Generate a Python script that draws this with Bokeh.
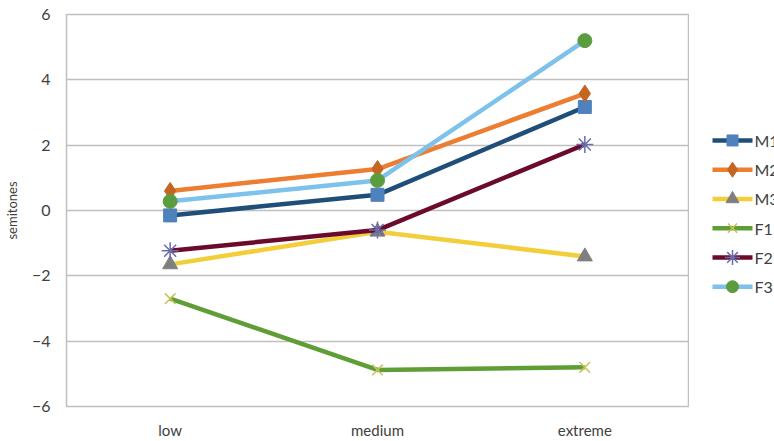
from bokeh.plotting import figure
from bokeh.layouts import row
from bokeh.models import FixedTicker
from bokeh.core.properties import value
from bokeh.embed import file_html
from bokeh.resources import INLINE

categories = ["low", "medium", "extreme"]

series_names = ["M1", "M2", "M3", "F1", "F2", "F3"]
m1 = [-0.15, 0.48, 3.17]
m2 = [0.60, 1.27, 3.58]
m3 = [-1.65, -0.65, -1.41]
f1 = [-2.70, -4.88, -4.80]
f2 = [-1.23, -0.60, 2.02]
f3 = [0.28, 0.92, 5.20]
y_ticks = [-6, -4, -2, 0, 2, 4, 6]

FONT = "Lato"

# line colour, marker, marker colour, marker size
styles = {
    "M1": ("#1F4E79", "square", "#4F81BD", 13),
    "M2": ("#ED7D31", "diamond", "#C5651F", 17),
    "M3": ("#F2CE3A", "triangle", "#7F7F7F", 15),
    "F1": ("#5F9E35", "x", "#C9C35A", 15),
    "F2": ("#6B0A2C", "asterisk", "#6A6DAA", 17),
    "F3": ("#7CC2EA", "circle", "#5B9C3E", 14),
}
values = {"M1": m1, "M2": m2, "M3": m3, "F1": f1, "F2": f2, "F3": f3}


def marker_style(mk, mc):
    if mk in ("x", "asterisk"):
        return dict(line_color=mc, line_width=1.5)
    return dict(fill_color=mc, line_color=mc)


# main chart
p = figure(
    width=689, height=441,
    x_range=categories, y_range=(-6, 6),
    output_backend="svg", toolbar_location=None,
    min_border_left=60, min_border_right=1,
    min_border_top=14, min_border_bottom=35,
)
p.x_range.range_padding = 0

p.outline_line_color = "#BFBFBF"
p.outline_line_width = 1.5
p.xgrid.grid_line_color = None
p.ygrid.grid_line_color = "#BFBFBF"
p.ygrid.grid_line_width = 1.5

p.yaxis.ticker = FixedTicker(ticks=y_ticks)
p.yaxis.axis_label = "semitones"
p.yaxis.axis_label_text_font = FONT
p.yaxis.axis_label_text_font_style = "normal"
p.yaxis.axis_label_text_font_size = "13px"
p.yaxis.axis_label_text_color = "#404040"
p.yaxis.axis_label_standoff = 9

for ax in (p.xaxis, p.yaxis):
    ax.axis_line_color = None
    ax.major_tick_line_color = None
    ax.minor_tick_line_color = None
    ax.major_tick_out = 0
    ax.major_tick_in = 0
    ax.minor_tick_out = 0
    ax.minor_tick_in = 0
    ax.major_label_text_font = FONT
    ax.major_label_text_color = "#404040"
p.xaxis.major_label_text_font_size = "15px"
p.yaxis.major_label_text_font_size = "16px"
p.yaxis.major_label_standoff = 16
p.xaxis.major_label_standoff = 14

for name in series_names:
    lc, mk, mc, ms = styles[name]
    ys = values[name]
    p.line(categories, ys, line_color=lc, line_width=4.5)
    p.scatter(categories, ys, marker=mk, size=ms, **marker_style(mk, mc))

# legend panel on the right, in pixel units
leg = figure(
    width=85, height=441,
    x_range=(0, 85), y_range=(441, 0),
    output_backend="svg", toolbar_location=None,
    x_axis_location=None, y_axis_location=None,
    min_border=0, outline_line_color=None,
)
leg.grid.visible = False

row_top, row_step = 141.7, 32.9
for i, name in enumerate(series_names):
    lc, mk, mc, ms = styles[name]
    yy = row_top + row_step * i
    leg.line([23, 63], [yy, yy], line_color=lc, line_width=4.5)
    leg.scatter([43], [yy], marker=mk, size=ms - 2, **marker_style(mk, mc))
    leg.text([65], [yy], text=[name], text_baseline="middle", text_align="left",
             text_font=value(FONT), text_font_size="16px", text_color="#404040")

layout = row(p, leg)
open("out.html", "w").write(file_html(layout, INLINE))
